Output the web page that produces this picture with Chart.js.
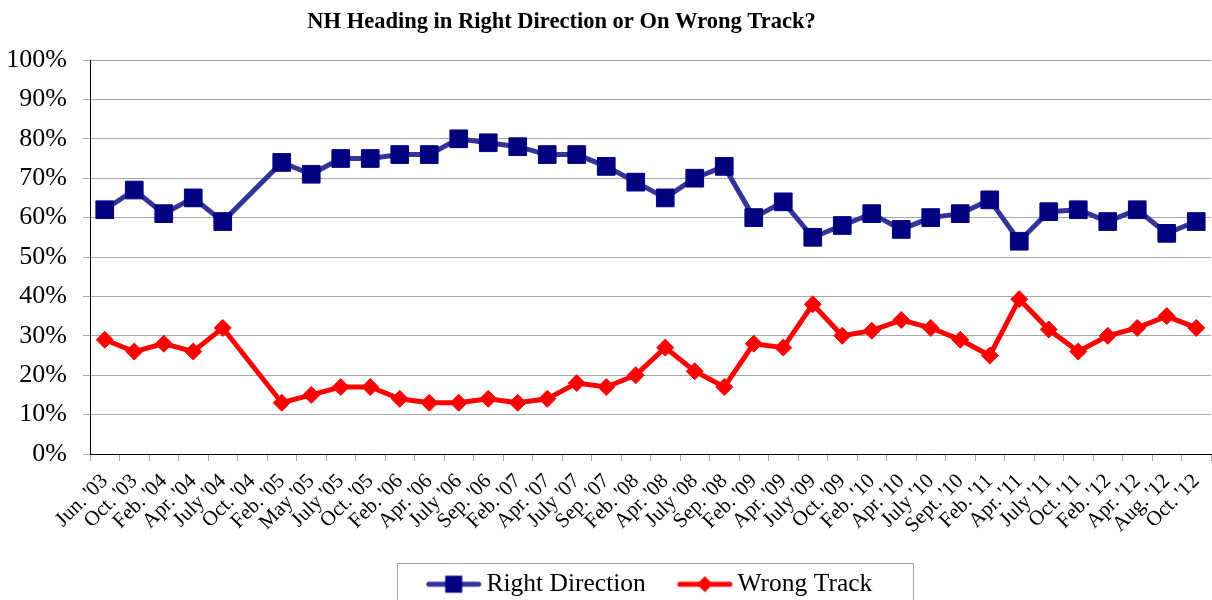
<!DOCTYPE html>
<html><head><meta charset="utf-8">
<script src="https://cdn.jsdelivr.net/npm/chart.js@4.4.1/dist/chart.umd.min.js"></script>
<style>html,body{margin:0;padding:0;background:#fff;}</style>
</head><body>
<canvas id="c" width="1212" height="600"></canvas>
<script>
const categories = ["Jun. '03","Oct. '03","Feb. '04","Apr. '04","July '04","Oct. '04","Feb. '05","May '05","July '05","Oct. '05","Feb. '06","Apr. '06","July '06","Sep. '06","Feb. '07","Apr. '07","July '07","Sep. '07","Feb. '08","Apr. '08","July '08","Sep. '08","Feb. '09","Apr. '09","July '09","Oct. '09","Feb. '10","Apr. '10","July '10","Sept. '10","Feb. '11","Apr. '11","July '11","Oct. '11","Feb. '12","Apr. '12","Aug. '12","Oct. '12"];
const rightDirection = [62,67,61,65,59,null,74,71,75,75,76,76,80,79,78,76,76,73,69,65,70,73,60,64,55,58,61,57,60,61,64.5,54,61.5,62,59,62,56,59];
const wrongTrack = [29,26,28,26,32,null,13,15,17,17,14,13,13,14,13,14,18,17,20,27,21,17,28,27,38,30,31.3,34,32,29,25,39.3,31.6,26,30,32,35,32];
const yTickLabels = ["0%","10%","20%","30%","40%","50%","60%","70%","80%","90%","100%"];
const seriesNames = ["Right Direction","Wrong Track"];
const chartTitle = "NH Heading in Right Direction or On Wrong Track?";

const FONT = "'Liberation Serif', 'Times New Roman', serif";

function makeLegendImg(lineColor, markColor, style) {
  const c = document.createElement('canvas');
  c.width = 56; c.height = 20;
  const g = c.getContext('2d');
  g.strokeStyle = lineColor; g.lineWidth = 5; g.lineCap = 'round';
  g.beginPath(); g.moveTo(3, 10); g.lineTo(53, 10); g.stroke();
  g.fillStyle = markColor;
  if (style === 'rect') {
    g.fillRect(28 - 8.5, 10 - 8.5, 17, 17);
  } else {
    g.beginPath(); g.moveTo(28, 2); g.lineTo(36, 10); g.lineTo(28, 18); g.lineTo(20, 10); g.closePath(); g.fill();
  }
  return c;
}
const legendImgs = [makeLegendImg('#333399', '#000080', 'rect'), makeLegendImg('#ff0000', '#ff0000', 'diamond')];

const LEGEND_PAD = 39;
const LEGEND_TOP = 532.5;

const layoutPlugin = {
  id: 'layoutTweaks',
  beforeUpdate(chart) {
    const lg = chart.legend;
    if (lg && !lg._patched) {
      const orig = lg.fit;
      lg.fit = function () { orig.call(this); if (this.isHorizontal()) this.height = 600 - LEGEND_TOP; };
      lg._patched = true;
    }
  },
  afterLayout(chart) {
    if (chart.titleBlock) { chart.titleBlock.left = 0; chart.titleBlock.right = 1123; }
    if (chart.legend) { chart.legend.left = 94; chart.legend.right = 1212; }
  },
  afterDraw(chart) {
    const lg = chart.legend;
    if (!lg || !lg.legendHitBoxes || !lg.legendHitBoxes.length) return;
    const hb = lg.legendHitBoxes;
    const x0 = hb[0].left - 37;
    const last = hb[hb.length - 1];
    const x1 = last.left + last.width + 40;
    const ctx = chart.ctx;
    ctx.save();
    ctx.strokeStyle = '#a6a6a6';
    ctx.lineWidth = 1;
    ctx.strokeRect(Math.round(x0) + 0.5, 563.5, Math.round(x1 - x0), 50);
    ctx.restore();
  }
};

new Chart(document.getElementById('c'), {
  type: 'line',
  data: {
    labels: categories,
    datasets: [
      {
        label: seriesNames[0], data: rightDirection,
        borderColor: '#333399', backgroundColor: '#000080', borderWidth: 5,
        pointStyle: 'rect', pointRadius: 12.5, pointBackgroundColor: '#000080', pointBorderColor: '#000080', pointBorderWidth: 1,
        spanGaps: true, tension: 0
      },
      {
        label: seriesNames[1], data: wrongTrack,
        borderColor: '#ff0000', backgroundColor: '#ff0000', borderWidth: 5,
        pointStyle: 'rectRot', pointRadius: 8.5, pointBackgroundColor: '#ff0000', pointBorderColor: '#ff0000', pointBorderWidth: 1,
        spanGaps: true, tension: 0
      }
    ]
  },
  options: {
    responsive: false,
    animation: false,
    devicePixelRatio: 1,
    layout: { autoPadding: false, padding: { left: 0, right: 1, top: 0, bottom: 0 } },
    plugins: {
      tooltip: { enabled: false },
      title: {
        display: true, text: chartTitle, color: '#000',
        font: { family: FONT, size: 22.5, weight: 'bold' },
        padding: { top: 9, bottom: 24 }
      },
      legend: {
        display: true, position: 'bottom',
        labels: {
          color: '#000', font: { family: FONT, size: 25.5 },
          usePointStyle: true, pointStyleWidth: 40, padding: LEGEND_PAD,
          generateLabels(chart) {
            const items = Chart.defaults.plugins.legend.labels.generateLabels(chart);
            items.forEach((it, i) => { it.pointStyle = legendImgs[i]; });
            return items;
          }
        }
      }
    },
    scales: {
      x: {
        offset: true,
        grid: { display: true, offset: true, drawOnChartArea: false, drawTicks: true, tickLength: 7, color: '#a6a6a6' },
        border: { display: true, color: '#000', width: 1 },
        ticks: {
          autoSkip: false, minRotation: 45, maxRotation: 45, padding: 8,
          color: '#000', font: { family: FONT, size: 21 }
        },
        afterFit(scale) { scale.height = LEGEND_TOP - 454; scale.paddingLeft = 0; scale.paddingRight = 0; }
      },
      y: {
        min: 0, max: 100,
        grid: { color: '#a6a6a6', lineWidth: 1, drawTicks: true, tickLength: 7 },
        border: { display: true, color: '#000', width: 1 },
        ticks: {
          stepSize: 10, padding: 16, color: '#000', font: { family: FONT, size: 26 },
          callback: (v, i) => yTickLabels[i]
        },
        afterFit(scale) { scale.width = 90; }
      }
    }
  },
  plugins: [layoutPlugin]
});
</script>
</body></html>
